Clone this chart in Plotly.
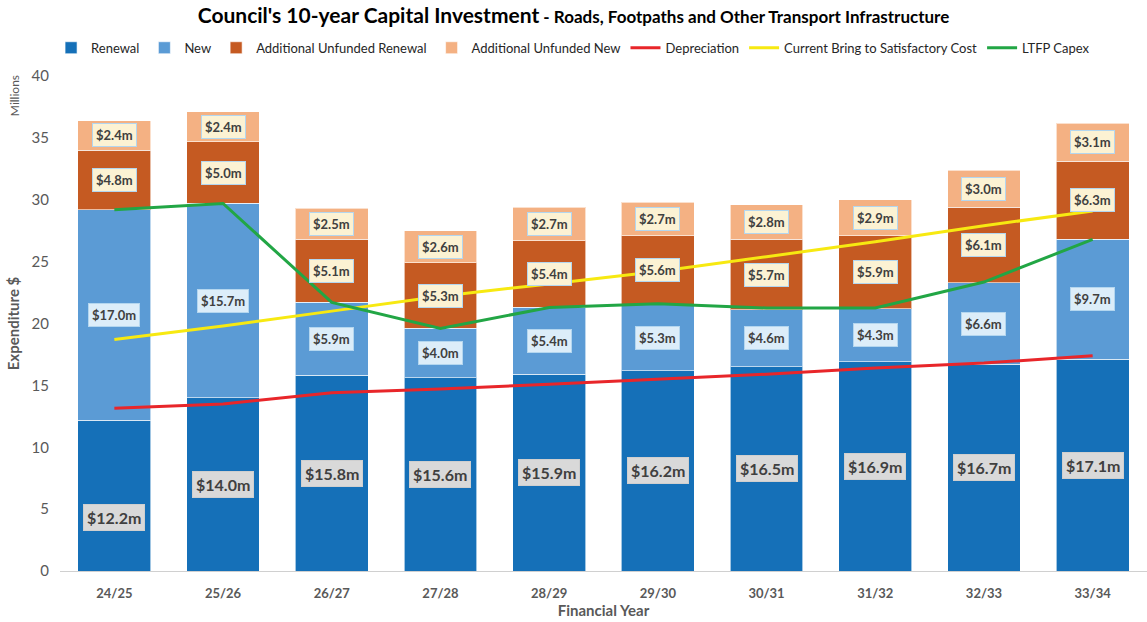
import plotly.graph_objects as go

years = ["24/25", "25/26", "26/27", "27/28", "28/29", "29/30", "30/31", "31/32", "32/33", "33/34"]
renewal = [12.2, 14.0, 15.8, 15.6, 15.9, 16.2, 16.5, 16.9, 16.7, 17.1]
new = [17.0, 15.7, 5.9, 4.0, 5.4, 5.3, 4.6, 4.3, 6.6, 9.7]
unfunded_renewal = [4.8, 5.0, 5.1, 5.3, 5.4, 5.6, 5.7, 5.9, 6.1, 6.3]
unfunded_new = [2.4, 2.4, 2.5, 2.6, 2.7, 2.7, 2.8, 2.9, 3.0, 3.1]
depreciation = [13.15, 13.5, 14.4, 14.7, 15.1, 15.5, 15.9, 16.4, 16.8, 17.4]
bring_to_satisfactory = [18.7, 19.8, 21.0, 22.2, 23.2, 24.2, 25.4, 26.6, 27.9, 29.1]
ltfp_capex = [29.2, 29.7, 21.7, 19.6, 21.3, 21.6, 21.25, 21.25, 23.35, 26.8]

FONT = "Lato"
GREY = "#595959"

fig = go.Figure()

bar_series = [
    ("Renewal", renewal, "#1570b8"),
    ("New", new, "#5b9bd5"),
    ("Additional Unfunded Renewal", unfunded_renewal, "#c55a22"),
    ("Additional Unfunded New", unfunded_new, "#f4b183"),
]
for name, vals, col in bar_series:
    fig.add_trace(go.Bar(
        x=years, y=vals, name=name,
        marker=dict(color=col, line=dict(color="rgba(255,255,255,0.6)", width=1)),
        hoverinfo="skip",
    ))

line_series = [
    ("Depreciation", depreciation, "#e8262a"),
    ("Current Bring to Satisfactory Cost", bring_to_satisfactory, "#f7e911"),
    ("LTFP Capex", ltfp_capex, "#22a645"),
]
for name, vals, col in line_series:
    fig.add_trace(go.Scatter(
        x=years, y=vals, name=name, mode="lines",
        line=dict(color=col, width=3),
    ))

# Value labels in boxes, centred on each stacked segment
annotations = []
for i, yr in enumerate(years):
    base = 0.0
    segs = [
        (renewal[i], "#d9d9d9", "#cfcfcf", 16),
        (new[i], "#dcedf9", "#b3d6ef", 13),
        (unfunded_renewal[i], "#fcf2d3", "#b3d6ef", 13),
        (unfunded_new[i], "#fcf2d3", "#b3d6ef", 13),
    ]
    for k, (v, bg, bc, fs) in enumerate(segs):
        yshift = -22 if (k == 0 and i == 0) else 0
        annotations.append(dict(
            x=yr, y=base + v / 2, text=f"<b>${v:.1f}m</b>",
            showarrow=False, yshift=yshift,
            font=dict(family=FONT, size=fs, color="#404040"),
            bgcolor=bg, bordercolor=bc, borderwidth=1, borderpad=3,
        ))
        base += v

annotations.append(dict(
    xref="paper", yref="paper", x=-0.042, y=0.96, text="Millions",
    textangle=-90, showarrow=False, xanchor="center", yanchor="middle",
    font=dict(family=FONT, size=12, color=GREY),
))

fig.update_layout(
    barmode="stack",
    bargap=0.33,
    width=1147, height=622,
    margin=dict(l=60, r=0, t=76, b=51),
    paper_bgcolor="white", plot_bgcolor="white",
    font=dict(family=FONT, color=GREY),
    title=dict(
        text="<b>Council's 10-year Capital Investment</b><b><span style='font-size:17px'> - Roads, Footpaths and Other Transport Infrastructure</span></b>",
        x=0.5, xref="container", xanchor="center", y=0.975, yanchor="middle",
        font=dict(family=FONT, size=21, color="#000000"),
    ),
    legend=dict(
        orientation="h", x=0.472, xanchor="center", y=1.057, yanchor="middle",
        traceorder="normal",
        font=dict(family=FONT, size=13, color="#262626"),
        itemwidth=30,
    ),
    xaxis=dict(
        showline=True, linecolor="#d0d0d0", linewidth=1,
        ticks="", ticklabelstandoff=10,
        tickfont=dict(family=FONT, size=13, color=GREY, weight="bold"),
        title=dict(text="<b>Financial Year</b>", font=dict(family=FONT, size=15, color=GREY), standoff=4),
    ),
    yaxis=dict(
        range=[0, 40], dtick=5, showgrid=False, zeroline=False,
        ticks="", ticklabelstandoff=10,
        tickfont=dict(family=FONT, size=15, color=GREY),
        title=dict(text="<b>Expenditure $</b>", font=dict(family=FONT, size=15, color=GREY), standoff=8),
    ),
    annotations=annotations,
)

fig.write_html("out.html")
